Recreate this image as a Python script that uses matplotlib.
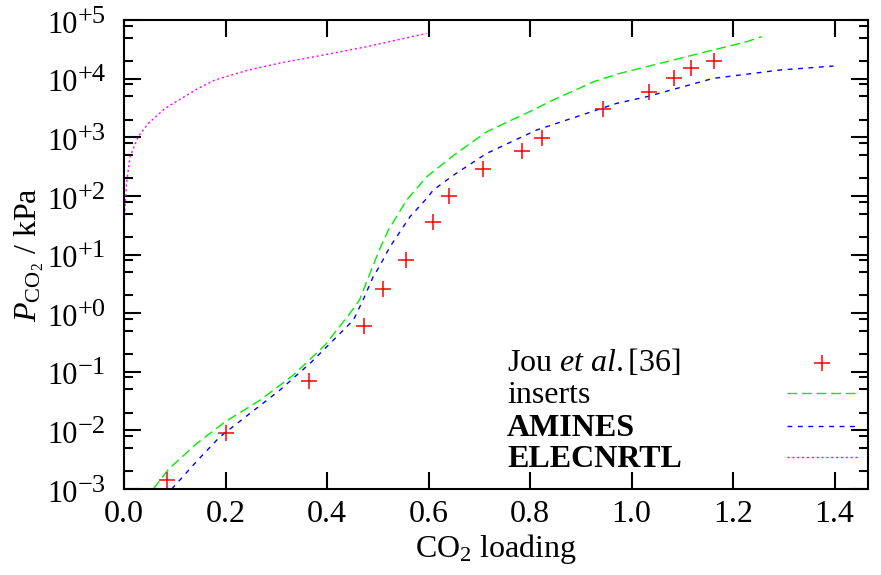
import matplotlib
matplotlib.use("Agg")
import matplotlib.pyplot as plt
from matplotlib.lines import Line2D
from matplotlib.ticker import FixedLocator, FuncFormatter, LogLocator, NullFormatter
import numpy as np

plt.rcParams['font.family'] = ['Liberation Serif', 'DejaVu Serif']
plt.rcParams['mathtext.fontset'] = 'custom'
plt.rcParams['mathtext.rm'] = 'Liberation Serif'
plt.rcParams['mathtext.it'] = 'Liberation Serif:italic'
plt.rcParams['mathtext.bf'] = 'Liberation Serif:bold'

# ---- data ----
jou_x = [0.084, 0.200, 0.365, 0.472, 0.511, 0.555, 0.608, 0.641, 0.708, 0.784, 0.824,
         0.944, 1.035, 1.084, 1.117, 1.163]
jou_y = [1.45e-3, 8.9e-3, 0.069, 0.60, 2.54, 8.0, 36, 100, 287, 582, 980,
         2990, 5980, 1.01e4, 1.5e4, 2.02e4]

ins_x = [0.0577, 0.0873, 0.1433, 0.199, 0.268, 0.3336, 0.396, 0.445, 0.464, 0.4847,
         0.503, 0.5208, 0.557, 0.5965, 0.652, 0.7147, 0.813, 0.838, 0.897, 0.925,
         0.977, 1.030, 1.161, 1.227, 1.2566]
ins_y = [1.0e-3, 2.15e-3, 5.97e-3, 0.01396, 0.0327, 0.0875, 0.284, 0.989, 1.67, 4.76,
         11.9, 26, 85, 212, 510, 1241, 3110, 4035, 6830, 8850,
         1.23e4, 1.6e4, 3.08e4, 4.26e4, 5.2e4]

am_x = [0.094, 0.1464, 0.189, 0.248, 0.307, 0.3665, 0.406, 0.452, 0.471, 0.491,
        0.503, 0.524, 0.5635, 0.5965, 0.6095, 0.652, 0.7147, 0.813, 0.9117, 0.971,
        1.030, 1.161, 1.292, 1.398]
am_y = [1.0e-3, 3.18e-3, 7.76e-3, 0.0194, 0.0485, 0.1387, 0.304, 0.76, 1.67, 4.17,
        6.2, 13.5, 44, 90.6, 126, 234, 531, 1327, 2560, 3787,
        4910, 1.01e4, 1.4e4, 1.64e4]

el_x = [0.000, 0.002, 0.005, 0.0118, 0.028, 0.048, 0.081, 0.1137, 0.1464, 0.179,
        0.245, 0.3107, 0.376, 0.478, 0.5965]
el_y = [26, 65, 163, 465, 1020, 1726, 3110, 4610, 6830, 9460,
        1.4e4, 1.87e4, 2.37e4, 3.5e4, 5.9e4]

labels = ["Jou $\\mathit{et\\ al.}$[36]", "inserts", "AMINES", "ELECNRTL"]
xticks = [0.0, 0.2, 0.4, 0.6, 0.8, 1.0, 1.2, 1.4]
yexp = [-3, -2, -1, 0, 1, 2, 3, 4, 5]

FS = 23
PX = 72.0 / 100.0  # points per pixel
fig = plt.figure(figsize=(8.81, 5.75), dpi=100)
ax = fig.add_axes([124/881, 1-489/575, 744/881, 469/575])

c_jou, c_ins, c_am, c_el = '#ff0000', '#00ee00', '#0000ff', '#ff00ff'
d_ins, d_am, d_el = (7, 3.5), (3.5, 4), (1.5, 2)
ax.plot(ins_x, ins_y, color=c_ins, lw=1.0, dashes=d_ins)
ax.plot(am_x, am_y, color=c_am, lw=1.0, dashes=d_am)
ax.plot(el_x, el_y, color=c_el, lw=1.0, dashes=d_el)
ax.plot(jou_x, jou_y, ls='none', marker='+', ms=12, mew=1.1, color=c_jou)

ax.set_yscale('log')
ax.set_xlim(0, 1.466)
ax.set_ylim(1e-3, 1e5)

ax.xaxis.set_major_locator(FixedLocator(xticks))
ax.xaxis.set_major_formatter(FuncFormatter(lambda v, p: f"{v:.1f}"))
ax.yaxis.set_major_locator(FixedLocator([10.0**e for e in yexp]))
ax.yaxis.set_minor_locator(LogLocator(base=10, subs=(2.0, 5.0, 8.0), numticks=50))
ax.yaxis.set_minor_formatter(NullFormatter())

for s in ax.spines.values():
    s.set_linewidth(1.5)
ax.tick_params(axis='both', which='both', direction='in', top=True, right=True, width=1.5)
ax.tick_params(axis='x', which='major', length=12, pad=8, labelsize=FS)
ax.tick_params(axis='y', which='major', length=12, labelleft=False)
ax.tick_params(axis='y', which='minor', length=6.5)

# y tick labels: "10" with a large superscript exponent
for e in yexp:
    sign = '+' if e >= 0 else '\u2212'
    ax.annotate("10", xy=(0, 10.0**e), xycoords=('axes fraction', 'data'),
                xytext=(-46 * PX, -12.7 * PX), textcoords='offset points',
                ha='right', va='baseline', fontsize=22)
    ax.annotate(f"{sign}{abs(e)}", xy=(0, 10.0**e), xycoords=('axes fraction', 'data'),
                xytext=(-46 * PX, -2.7 * PX), textcoords='offset points',
                ha='left', va='baseline', fontsize=19)

ax.set_xlabel("CO$_\\mathregular{2}$ loading", fontsize=FS, labelpad=2)
ax.set_ylabel("$P_{\\mathrm{CO_2}}$ / kPa", fontsize=FS)
ax.yaxis.set_label_coords(-0.105, 0.5)

# legend (manual)
def fx(px):
    return (px - 124) / 744
def fy(py):
    return (489 - py) / 469
base = [371, 403, 436, 467]
weights = ['normal', 'normal', 'bold', 'bold']
for lab, b, w in zip(labels, base, weights):
    ax.text(fx(507), fy(b), lab, transform=ax.transAxes, fontsize=FS, fontweight=w,
            va='baseline', ha='left')
ax.add_line(Line2D([fx(822)], [fy(363)], transform=ax.transAxes, ls='none', marker='+',
                   ms=12, mew=1.1, color=c_jou))
ax.add_line(Line2D([fx(787), fx(858)], [fy(393)] * 2, transform=ax.transAxes, color=c_ins,
                   lw=1.0, dashes=d_ins))
ax.add_line(Line2D([fx(787), fx(858)], [fy(426)] * 2, transform=ax.transAxes, color=c_am,
                   lw=1.0, dashes=d_am))
ax.add_line(Line2D([fx(787), fx(858)], [fy(457)] * 2, transform=ax.transAxes, color=c_el,
                   lw=1.0, dashes=d_el))

fig.savefig("out.png", dpi=100)
